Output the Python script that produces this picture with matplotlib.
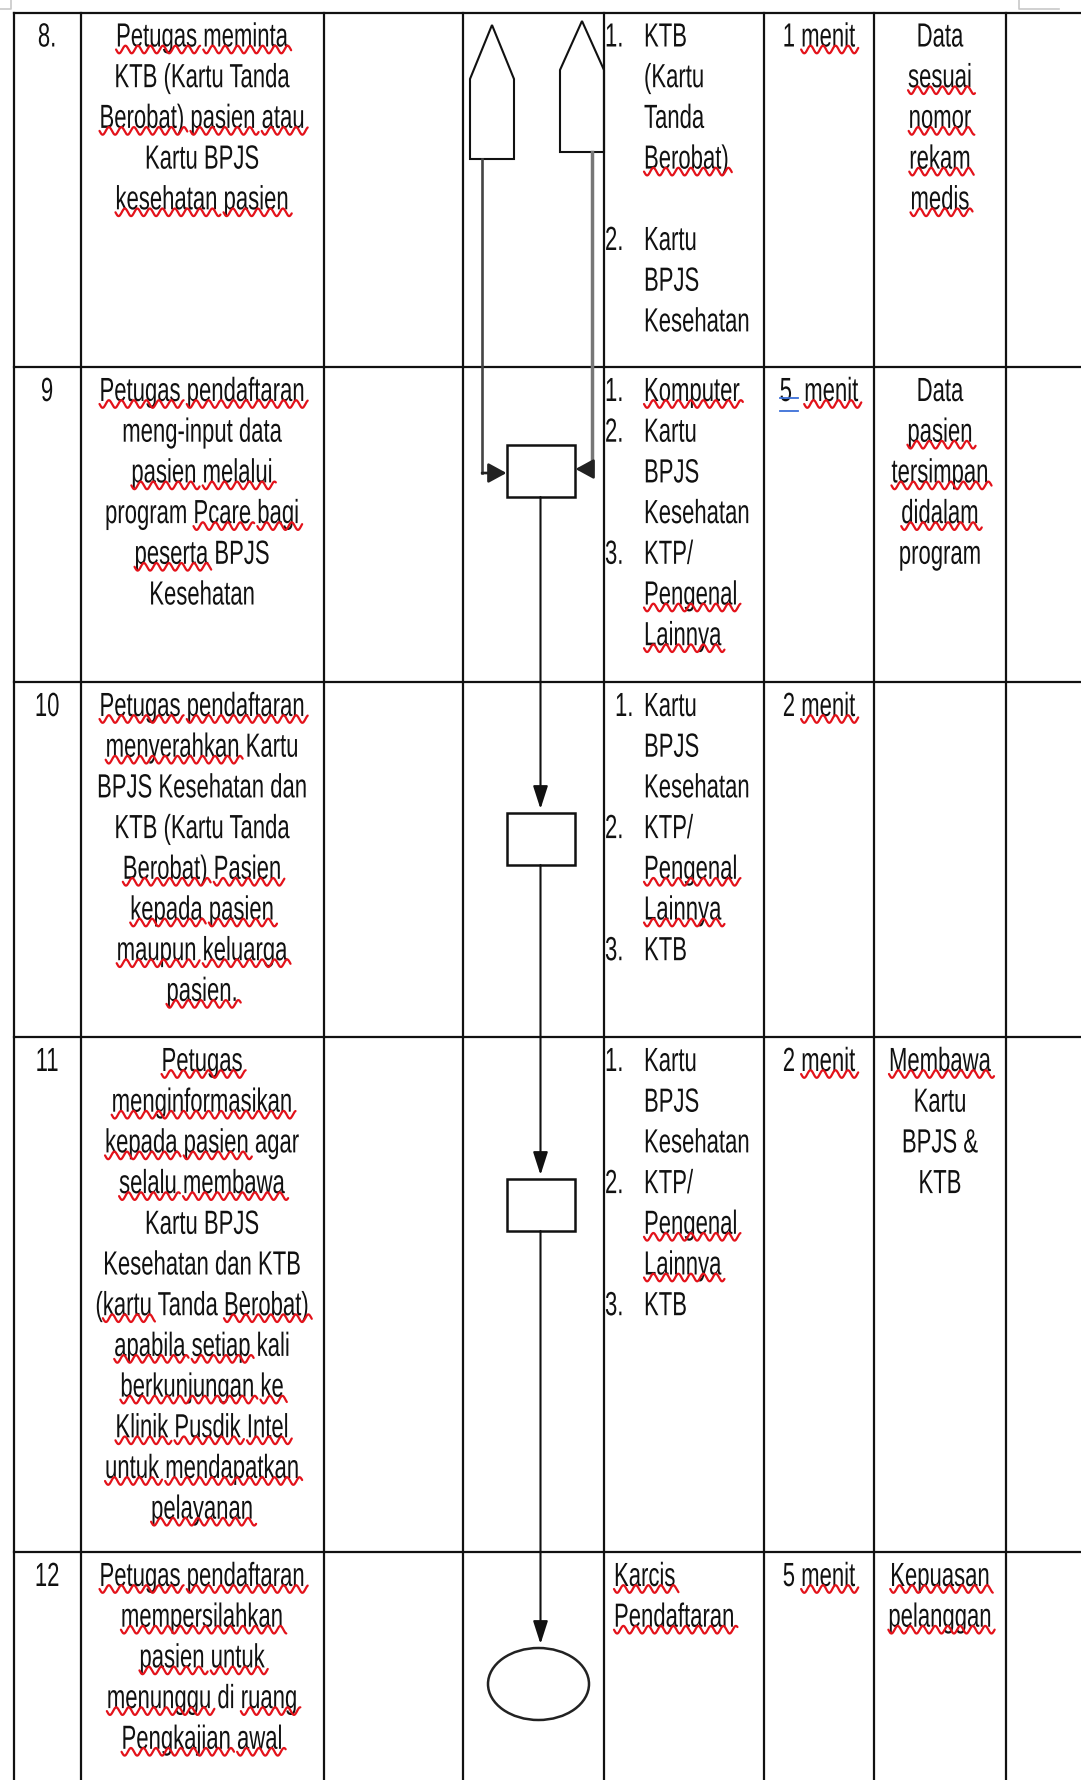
import numpy as np
import matplotlib
matplotlib.use("Agg")
import matplotlib.pyplot as plt
import matplotlib.patheffects as pe
from matplotlib.patches import Rectangle, Ellipse, Polygon
from matplotlib.font_manager import FontProperties
from matplotlib.transforms import Affine2D

W, H = 1081, 1780

# ---- isi tabel SOP (kata di antara ~ ~ = garis merah ejaan, ^ ^ = garis biru)
nomor = ["8.", "9", "10", "11", "12"]

kegiatan = [
    ["~Petugas~ ~meminta~", "KTB (Kartu Tanda", "~Berobat)~ ~pasien~ ~atau~",
     "Kartu BPJS", "~kesehatan~ ~pasien~"],
    ["~Petugas~ ~pendaftaran~", "meng-input data", "~pasien~ ~melalui~",
     "program ~Pcare~ ~bagi~", "~peserta~ BPJS", "Kesehatan"],
    ["~Petugas~ ~pendaftaran~", "~menyerahkan~ Kartu", "BPJS Kesehatan dan",
     "KTB (Kartu Tanda", "~Berobat)~ ~Pasien~", "~kepada~ ~pasien~",
     "~maupun~ ~keluarga~", "~pasien.~"],
    ["~Petugas~", "~menginformasikan~", "~kepada~ ~pasien~ agar",
     "~selalu~ ~membawa~", "Kartu BPJS", "Kesehatan dan KTB",
     "(~kartu~ Tanda ~Berobat)~", "~apabila~ ~setiap~ kali",
     "~berkunjungan~ ~ke~", "~Klinik~ ~Pusdik~ ~Intel~",
     "~untuk~ ~mendapatkan~", "~pelayanan~"],
    ["~Petugas~ ~pendaftaran~", "~mempersilahkan~", "~pasien~ ~untuk~",
     "~menunggu~ di ~ruang~", "~Pengkajian~ ~awal~"],
]

# (nomor butir, teks)
alat = [
    [("1.", "KTB"), ("", "(Kartu"), ("", "Tanda"), ("", "~Berobat)~"), ("", ""),
     ("2.", "Kartu"), ("", "BPJS"), ("", "Kesehatan")],
    [("1.", "~Komputer~"), ("2.", "Kartu"), ("", "BPJS"), ("", "Kesehatan"),
     ("3.", "KTP/"), ("", "~Pengenal~"), ("", "~Lainnya~")],
    [("1.", "Kartu"), ("", "BPJS"), ("", "Kesehatan"), ("2.", "KTP/"),
     ("", "~Pengenal~"), ("", "~Lainnya~"), ("3.", "KTB")],
    [("1.", "Kartu"), ("", "BPJS"), ("", "Kesehatan"), ("2.", "KTP/"),
     ("", "~Pengenal~"), ("", "~Lainnya~"), ("3.", "KTB")],
    [("", "~Karcis~"), ("", "~Pendaftaran~")],
]

waktu = ["1 ~menit~", "^5 ^ ~menit~", "2 ~menit~", "2 ~menit~", "5 ~menit~"]

output = [
    ["Data", "~sesuai~", "~nomor~", "~rekam~", "~medis~"],
    ["Data", "~pasien~", "~tersimpan~", "~didalam~", "program"],
    [],
    ["~Membawa~", "Kartu", "BPJS &", "KTB"],
    ["~Kepuasan~", "~pelanggan~"],
]

simbol = ["konektor", "proses", "proses", "proses", "terminal"]

# ---- tata letak (piksel)
row_edges = [12.5, 367, 682, 1037, 1552]
col_edges = [13.6, 80.6, 323.6, 463, 604, 764, 874, 1006]
first_base = 34
line_h = 40.7
sym_offset = [None, 104, 157, 168, 132]   # pusat simbol dari atas baris
num_x = 605
first_num_x = [605, 605, 615, 605, 605]
item_x = [644, 644, 644, 644, 614]
SX = 0.66          # huruf dipersempit seperti Arial Narrow

fig = plt.figure(figsize=(W / 100, H / 100), dpi=100)
ax = fig.add_axes([0, 0, 1, 1])
ax.set_xlim(0, W)
ax.set_ylim(H, 0)
ax.axis("off")

fp = FontProperties(family=["Liberation Sans", "DejaVu Sans"], size=24.1)
renderer = fig.canvas.get_renderer()


class Squeeze(pe.AbstractPathEffect):
    def __init__(self, x0, sx):
        super().__init__()
        self.x0 = x0
        self.sx = sx

    def draw_path(self, renderer, gc, tpath, affine, rgbFace=None):
        t = affine + Affine2D().translate(-self.x0, 0).scale(self.sx, 1).translate(self.x0, 0)
        renderer.draw_path(gc, tpath, t, rgbFace)


def tw(s):
    w1 = renderer.get_text_width_height_descent(s + "|", fp, ismath=False)[0]
    w0 = renderer.get_text_width_height_descent("|", fp, ismath=False)[0]
    return (w1 - w0) * SX


def parse(s):
    plain, spans, start = "", [], None
    for ch in s:
        if ch in "~^":
            if start is None:
                start = (len(plain), ch)
            else:
                spans.append((start[0], len(plain), ch))
                start = None
        else:
            plain += ch
    return plain, spans


def squiggle(x0, x1, y):
    xs = np.linspace(x0, x1 + 3, int((x1 - x0) * 2) + 8)
    ys = y + 3.8 * np.sin(2 * np.pi * (xs - x0) / 12.5)
    ax.plot(xs, ys, color="#e3121a", lw=1.6, solid_capstyle="round", zorder=4)


def draw(s, x, y, ha="center"):
    plain, spans = parse(s)
    if not plain:
        return
    ax.text(x, y, plain, ha=ha, va="baseline", fontproperties=fp, color="#111111",
            path_effects=[Squeeze(x, SX)])
    w = tw(plain)
    left = x - w / 2 if ha == "center" else x
    for a, b, kind in spans:
        x0 = left + tw(plain[:a])
        x1 = left + tw(plain[:b])
        if kind == "~":
            squiggle(x0, x1, y + 3)
        else:
            ax.plot([x0, x1], [y - 3, y - 3], color="#3b6fd8", lw=1.3, zorder=4)
            ax.plot([x0, x1], [y + 10, y + 10], color="#3b6fd8", lw=1.3, zorder=4)


# ---- garis tabel
lw_t = 1.6
for y in row_edges:
    ax.plot([col_edges[0], W], [y, y], color="#111111", lw=lw_t)
for x in col_edges:
    ax.plot([x, x], [row_edges[0], H], color="#111111", lw=lw_t)
# sisa bingkai abu-abu di tepi atas
ax.plot([0, 11, 11], [9, 9, 0], color="#c8c8c8", lw=1.2)
ax.plot([1019, 1019, 1059], [0, 9, 9], color="#c8c8c8", lw=1.2)

# ---- teks
c1 = (col_edges[0] + col_edges[1]) / 2
c2 = (col_edges[1] + col_edges[2]) / 2
c6 = (col_edges[5] + col_edges[6]) / 2
c7 = (col_edges[6] + col_edges[7]) / 2
for i, top in enumerate(row_edges):
    base = top + first_base
    draw(nomor[i], c1, base)
    for k, s in enumerate(kegiatan[i]):
        draw(s, c2, base + k * line_h)
    for k, (n, s) in enumerate(alat[i]):
        if n:
            nx = first_num_x[i] if n == "1." else num_x
            draw(n, nx, base + k * line_h, ha="left")
        draw(s, item_x[i], base + k * line_h, ha="left")
    draw(waktu[i], c6, base)
    for k, s in enumerate(output[i]):
        draw(s, c7, base + k * line_h)

# ---- simbol diagram alir
lw_s = 1.5
cx = 540.5
bw, bh = 68, 52


def arrow_down(x, y0, y1):
    ax.annotate("", xy=(x, y1), xytext=(x, y0),
                arrowprops=dict(arrowstyle="-|>,head_length=1.4,head_width=0.45",
                                color="#111111", lw=lw_s, shrinkA=0, shrinkB=0))


def arrow_h(x0, y0, x1, col):
    ax.annotate("", xy=(x1, y0), xytext=(x0, y0),
                arrowprops=dict(arrowstyle="-|>,head_length=1.1,head_width=0.6",
                                color=col, lw=lw_s + 0.4, shrinkA=0, shrinkB=0))


boxes = []
for i, kind in enumerate(simbol):
    top = row_edges[i]
    if kind == "konektor":
        left_c = [(470, 159), (470, 79), (492, 25), (514, 79), (514, 159)]
        right_c = [(560, 152), (560, 70), (582, 21), (604, 70), (604, 152)]
        for pts in (left_c, right_c):
            ax.add_patch(Polygon(pts, closed=True, fill=False, ec="#111111", lw=lw_s))
    elif kind == "proses":
        cy = top + sym_offset[i]
        ax.add_patch(Rectangle((cx - bw / 2 + 0.5, cy - bh / 2), bw, bh,
                               fill=False, ec="#111111", lw=lw_s + 0.3, zorder=3))
        boxes.append((cy - bh / 2, cy + bh / 2, cy))
    else:
        cy = top + sym_offset[i]
        ax.add_patch(Ellipse((538.5, cy), 101, 72, fill=False, ec="#222222", lw=lw_s + 0.3))
        boxes.append((cy - 36, cy + 36, cy))

# konektor -> kotak pertama
b0 = boxes[0]
ax.plot([482, 482], [159, b0[2] + 2], color="#444444", lw=lw_s + 0.4)
arrow_h(482, b0[2] + 2, cx - bw / 2, "#222222")
ax.plot([591.5, 591.5], [152, b0[2] - 2], color="#777777", lw=lw_s + 1.0)
arrow_h(591.5, b0[2] - 2, cx + bw / 2 + 1, "#222222")

# aliran vertikal
for (t0, b_0, _), (t1, b1, _) in zip(boxes[:-1], boxes[1:]):
    arrow_down(cx, b_0, t1 - 4)

fig.savefig("out.png", dpi=100, facecolor="white")
